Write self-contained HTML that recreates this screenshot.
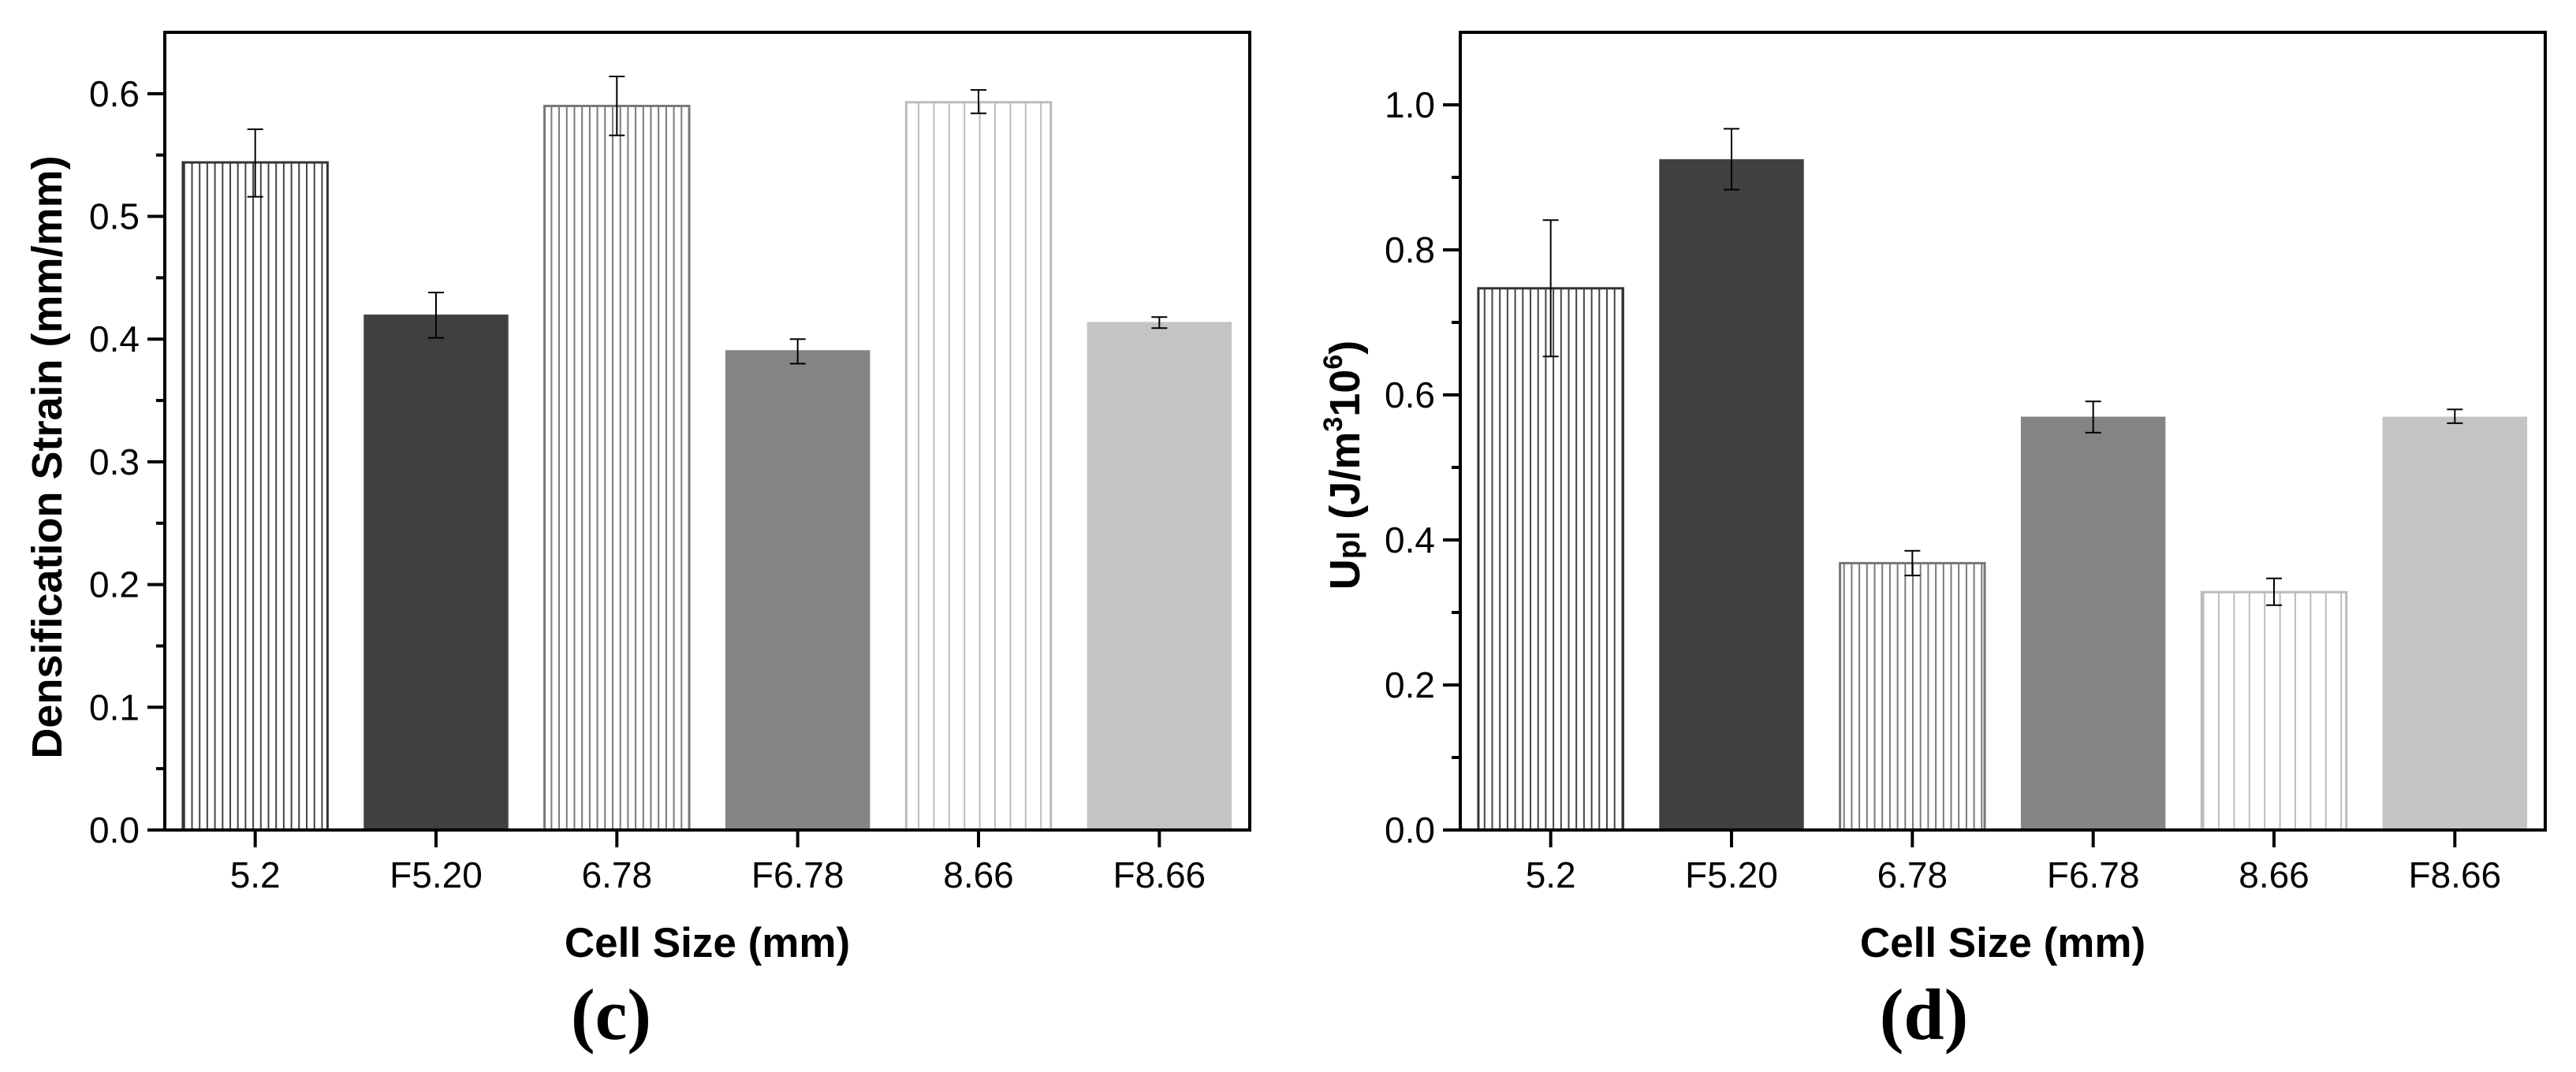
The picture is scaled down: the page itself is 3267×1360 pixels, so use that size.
<!DOCTYPE html>
<html><head><meta charset="utf-8">
<style>
html,body{margin:0;padding:0;background:#fff;}
svg{display:block;}
text{font-family:"Liberation Sans",Arial,sans-serif;}
</style></head>
<body>
<svg id="fig" width="3267" height="1360" viewBox="0 0 3267 1360" xmlns="http://www.w3.org/2000/svg">
<defs>
<pattern id="hatchDark" patternUnits="userSpaceOnUse" width="9.7" height="10"><rect width="9.7" height="10" fill="#fff"/><line x1="1" y1="0" x2="1" y2="10" stroke="#444" stroke-width="2"/></pattern>
<pattern id="hatchMid" patternUnits="userSpaceOnUse" width="9.7" height="10"><rect width="9.7" height="10" fill="#fff"/><line x1="1" y1="0" x2="1" y2="10" stroke="#7a7a7a" stroke-width="2"/></pattern>
<pattern id="hatchLight" patternUnits="userSpaceOnUse" width="19.4" height="10"><rect width="19.4" height="10" fill="#fff"/><line x1="1" y1="0" x2="1" y2="10" stroke="#bdbdbd" stroke-width="2"/></pattern>
</defs>
<g id="chartC"></g>
<g id="chartD"></g>
<text x="775" y="1318" text-anchor="middle" font-weight="bold" font-size="92" style="font-family:'Liberation Serif',serif">(c)</text>
<text x="2440" y="1318" text-anchor="middle" font-weight="bold" font-size="92" style="font-family:'Liberation Serif',serif">(d)</text>
</svg>
<script>
const categories = ["5.2","F5.20","6.78","F6.78","8.66","F8.66"];
const strainValues = [0.544,0.420,0.590,0.391,0.593,0.414];
const strainErrLow = [0.516,0.401,0.566,0.380,0.584,0.409];
const strainErrHigh = [0.571,0.438,0.614,0.400,0.603,0.418];
const strainTicks = ["0.0","0.1","0.2","0.3","0.4","0.5","0.6"];
const energyValues = [0.747,0.925,0.368,0.570,0.328,0.570];
const energyErrLow = [0.653,0.883,0.351,0.548,0.310,0.561];
const energyErrHigh = [0.841,0.967,0.385,0.591,0.347,0.580];
const energyTicks = ["0.0","0.2","0.4","0.6","0.8","1.0"];

const NS = "http://www.w3.org/2000/svg";
function mk(tag, attrs, parent){
  const e = document.createElementNS(NS, tag);
  for (const k in attrs) e.setAttribute(k, attrs[k]);
  parent.appendChild(e);
  return e;
}
function drawChart(g, cfg){
  const L = cfg.left, R = cfg.left + 1376, T = 41, B = 1053;
  const yMax = cfg.yMax;
  const y = v => B - (v / yMax) * (B - T);
  const band = (R - L) / categories.length;
  const x = i => L + band * (i + 0.5);
  const bw = band * 0.8;
  const styles = [
    {fill:"url(#hatchDark)", stroke:"#333"},
    {fill:"#404040", stroke:"none"},
    {fill:"url(#hatchMid)", stroke:"#777"},
    {fill:"#848484", stroke:"none"},
    {fill:"url(#hatchLight)", stroke:"#bbb"},
    {fill:"#c4c4c4", stroke:"none"}
  ];
  cfg.values.forEach((v, i) => {
    const r = mk("rect", {x: x(i) - bw/2, y: y(v), width: bw, height: B - y(v), fill: styles[i].fill, stroke: styles[i].stroke, "stroke-width": 3}, g);
    
    
  });
  cfg.values.forEach((v, i) => {
    const eg = mk("g", {stroke:"#000", "stroke-width":2}, g);
    
    
    mk("line", {x1:x(i), x2:x(i), y1:y(cfg.lo[i]), y2:y(cfg.hi[i])}, eg);
    mk("line", {x1:x(i)-10, x2:x(i)+10, y1:y(cfg.lo[i]), y2:y(cfg.lo[i])}, eg);
    mk("line", {x1:x(i)-10, x2:x(i)+10, y1:y(cfg.hi[i]), y2:y(cfg.hi[i])}, eg);
  });
  const frame = mk("rect", {x:L, y:T, width:R-L, height:B-T, fill:"none", stroke:"#000", "stroke-width":4}, g);
  
  
  cfg.ticks.forEach((t, k) => {
    const v = parseFloat(t);
    mk("line", {x1:L-22, x2:L, y1:y(v), y2:y(v), stroke:"#000", "stroke-width":4}, g);
    const tx = mk("text", {x:L-32, y:y(v)+16, "text-anchor":"end", "font-size":46}, g);
    tx.textContent = t;
    
    
    const mv = v + cfg.step / 2;
    if (mv < yMax) mk("line", {x1:L-11, x2:L, y1:y(mv), y2:y(mv), stroke:"#000", "stroke-width":4}, g);
  });
  categories.forEach((c, i) => {
    mk("line", {x1:x(i), x2:x(i), y1:B, y2:B+22, stroke:"#000", "stroke-width":4}, g);
    const tx = mk("text", {x:x(i), y:B+73, "text-anchor":"middle", "font-size":46}, g);
    tx.textContent = c;
    
    
  });
  const xt = mk("text", {x:(L+R)/2, y:1214, "text-anchor":"middle", "font-size":53, "font-weight":"bold"}, g);
  xt.textContent = "Cell Size (mm)";
  
  
  const ytg = mk("text", {transform:`translate(${cfg.ytX},${cfg.ytY}) rotate(-90)`, "text-anchor":"middle", "font-size":54, "font-weight":"bold"}, g);
  
  
  cfg.ytitle(ytg);
}
drawChart(document.getElementById("chartC"), {left:209, yMax:0.65, step:0.1, ticks:strainTicks, values:strainValues, lo:strainErrLow, hi:strainErrHigh, ytX:78, ytY:580,
  ytitle: t => { t.textContent = "Densification Strain (mm/mm)"; }});
drawChart(document.getElementById("chartD"), {left:1852, yMax:1.1, step:0.2, ticks:energyTicks, values:energyValues, lo:energyErrLow, hi:energyErrHigh, ytX:1724, ytY:590,
  ytitle: t => {
    const parts = [["U",{}],["pl",{"font-size":40}],[" (J/m",{}],["3",{"font-size":34,"dy":-22}],["10",{"dy":22}],["6",{"font-size":34,"dy":-22}],[")",{"dy":22}]];
    parts.forEach(p => { const s = mk("tspan", p[1], t); s.textContent = p[0]; });
  }});
</script>
</body></html>
